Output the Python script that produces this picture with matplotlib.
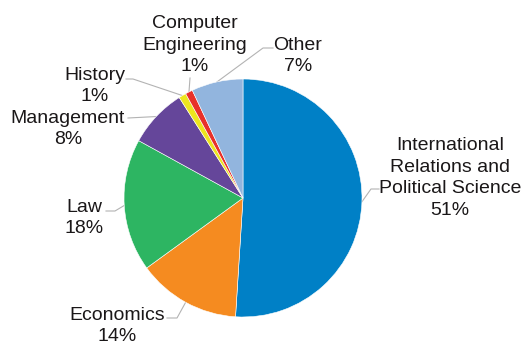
import numpy as np
import matplotlib
matplotlib.use('Agg')
import matplotlib.pyplot as plt

plt.rcParams['font.family'] = ['Liberation Sans', 'DejaVu Sans']

# data
labels = ['International\nRelations and\nPolitical Science', 'Economics', 'Law',
          'Management', 'History', 'Computer\nEngineering', 'Other']
shares = [51, 14, 18, 8, 1, 1, 7]
colors = ['#0080c6', '#f58b20', '#2db562', '#65469a', '#ede51e', '#e8312a', '#92b5de']

W, H = 526, 344
cx, cy, R = 243, H - 198, 119

# label centres and leader elbows (pixels, y down)
label_pos = [(450, 178), (117, 326), (84, 218), (68, 129), (95, 86), (195, 45), (298, 56)]
elbows = [[(371, 189), (379, 189)],
          [(177, 318), (167, 318)],
          [(115, 211), (106, 211)],
          [(128, 118)],
          [(133, 79), (126, 79)],
          [(190, 78)],
          [(263, 48), (273, 48)]]

fig = plt.figure(figsize=(W / 100, H / 100), dpi=100)
ax = fig.add_axes([0, 0, 1, 1])

ax.pie(shares, colors=colors, startangle=90, counterclock=False,
       center=(cx, cy), radius=R, frame=True,
       wedgeprops=dict(edgecolor='white', linewidth=0.4))
ax.set_xlim(0, W)
ax.set_ylim(0, H)
ax.set_aspect('equal')
ax.axis('off')

total = sum(shares)
cum = np.cumsum(shares)
for i, (lab, s) in enumerate(zip(labels, shares)):
    mid = 90 - (cum[i] - s / 2) / total * 360
    x0 = cx + R * np.cos(np.radians(mid))
    y0 = cy + R * np.sin(np.radians(mid))
    pts = [(x0, y0)] + [(x, H - y) for x, y in elbows[i]]
    ax.plot([p[0] for p in pts], [p[1] for p in pts], color='#b3b3b3', lw=0.8, zorder=0.5)
    tx, ty = label_pos[i]
    ax.text(tx, H - ty, f'{lab}\n{s}%', ha='center', va='center', multialignment='center',
            fontsize=14, linespacing=1.34, color='#1a1718')

fig.savefig('out.png', dpi=100)
